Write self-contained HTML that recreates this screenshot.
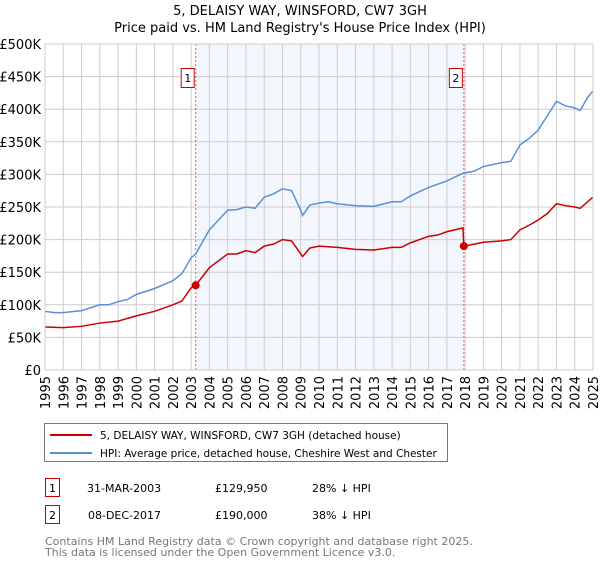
<!DOCTYPE html>
<html><head><meta charset="utf-8"><style>
body{margin:0;background:#fff;font-family:"DejaVu Sans","Liberation Sans",sans-serif;}
svg text{font-family:"DejaVu Sans","Liberation Sans",sans-serif;}
</style></head><body>
<svg id="c" width="600" height="560" xmlns="http://www.w3.org/2000/svg">
<text x="300" y="15" text-anchor="middle" font-size="13">5, DELAISY WAY, WINSFORD, CW7 3GH</text>
<text x="300" y="32" text-anchor="middle" font-size="13">Price paid vs. HM Land Registry's House Price Index (HPI)</text>
<g id="plot"></g>
<g>
<rect x="44.5" y="423.5" width="403" height="38" fill="#fff" stroke="#777"/>
<line x1="50" y1="435" x2="92" y2="435" stroke="#cc0000" stroke-width="2"/>
<text x="100" y="439" font-size="10.5">5, DELAISY WAY, WINSFORD, CW7 3GH (detached house)</text>
<line x1="50" y1="453" x2="92" y2="453" stroke="#5b8fd4" stroke-width="2"/>
<text x="100" y="457" font-size="10.5">HPI: Average price, detached house, Cheshire West and Chester</text>
</g>
<g font-size="11">
<rect x="45.5" y="478.5" width="14" height="18" fill="#fff" stroke="#cc0000"/>
<text x="52.5" y="492" text-anchor="middle">1</text>
<text x="87" y="492">31-MAR-2003</text><text x="215" y="492">£129,950</text><text x="312" y="492">28% ↓ HPI</text>
<rect x="45.5" y="505.5" width="14" height="18" fill="#fff" stroke="#cc0000"/>
<text x="52.5" y="519" text-anchor="middle">2</text>
<text x="88" y="519">08-DEC-2017</text><text x="215" y="519">£190,000</text><text x="312" y="519">38% ↓ HPI</text>
</g>
<text x="45" y="545" font-size="11" fill="#777">Contains HM Land Registry data © Crown copyright and database right 2025.</text>
<text x="45" y="556" font-size="11" fill="#777">This data is licensed under the Open Government Licence v3.0.</text>
</svg>
<script>
const yTicks=[0,50000,100000,150000,200000,250000,300000,350000,400000,450000,500000];
const yLabels=["£0","£50K","£100K","£150K","£200K","£250K","£300K","£350K","£400K","£450K","£500K"];
const years=[1995,1996,1997,1998,1999,2000,2001,2002,2003,2004,2005,2006,2007,2008,2009,2010,2011,2012,2013,2014,2015,2016,2017,2018,2019,2020,2021,2022,2023,2024,2025];
const hpiT=[1995,1995.5,1996,1997,1998,1998.5,1999,1999.5,2000,2001,2002,2002.5,2003,2003.25,2004,2005,2005.5,2006,2006.5,2007,2007.5,2008,2008.5,2009,2009.1,2009.5,2010,2010.5,2011,2012,2013,2014,2014.5,2015,2016,2016.5,2017,2017.9,2018.5,2019,2020,2020.5,2021,2021.5,2022,2022.5,2023,2023.5,2024,2024.3,2024.7,2025];
const hpiV=[90,88,88,91,100,100,105,108,116,125,137,148,172,178,215,245,246,250,248,265,270,278,275,245,237,253,256,258,255,252,251,258,258,267,280,285,290,302,305,312,318,320,345,355,368,390,412,405,402,398,418,428];
const ppT=[1995,1996,1997,1998,1999,2000,2001,2002,2002.5,2003,2003.25,2004,2005,2005.5,2006,2006.5,2007,2007.5,2008,2008.5,2009,2009.1,2009.5,2010,2011,2012,2013,2014,2014.5,2015,2016,2016.5,2017,2017.88,2017.93,2018.5,2019,2020,2020.5,2021,2021.5,2022,2022.5,2023,2023.5,2024,2024.3,2024.7,2025];
const ppV=[66,65,67,72,75,83,90,100,106,126,130,157,178,178,183,180,190,193,200,198,178,174,187,190,188,185,184,188,188,195,205,207,212,218,190,193,196,198,200,215,222,230,240,255,252,250,248,258,265];
const saleT=[2003.25,2017.93];
const saleV=[129950,190000];
const saleLabels=["1","2"];
const X0=45,X1=593,Y0=370,Y1=44;
const sx=t=>X0+(t-1995)/30*(X1-X0);
const sy=v=>Y0-v/500000*(Y0-Y1);
const NS="http://www.w3.org/2000/svg";
const g=document.getElementById('plot');
function mk(tag,attrs){const e=document.createElementNS(NS,tag);for(const k in attrs)e.setAttribute(k,attrs[k]);g.appendChild(e);return e;}
let e=mk('rect',{x:sx(saleT[0]),y:Y1,width:sx(saleT[1])-sx(saleT[0]),height:Y0-Y1,fill:'#f3f6fd'});


yTicks.forEach((v,i)=>{
 let l=mk('line',{x1:X0,x2:X1,y1:sy(v),y2:sy(v),stroke:'#ccc'});
 
 
 let t=mk('text',{x:X0-4,y:sy(v)+5,'text-anchor':'end','font-size':'13'});t.textContent=yLabels[i];
 
 
});
years.forEach(y=>{
 let l=mk('line',{x1:sx(y),x2:sx(y),y1:Y1,y2:Y0,stroke:'#ccc'});
 
 
 let t=mk('text',{x:0,y:0,'text-anchor':'end','font-size':'13',transform:`translate(${sx(y)+5},${Y0+6}) rotate(-90)`});t.textContent=y;
 
 
});
saleT.forEach((t,i)=>{
 let l=mk('line',{x1:sx(t),x2:sx(t),y1:Y1,y2:Y0,stroke:'#f06060','stroke-dasharray':'2,2'});
 
 
 let r=mk('rect',{x:sx(t)-14.5,y:68.5,width:13,height:19,fill:'#fff',stroke:'#cc0000'});
 
 
 let tx=mk('text',{x:sx(t)-8,y:82,'text-anchor':'middle','font-size':'11'});tx.textContent=saleLabels[i];
 
 
});
let hp=mk('polyline',{points:hpiT.map((t,i)=>sx(t)+','+sy(hpiV[i]*1000)).join(' '),fill:'none',stroke:'#5b8fd4','stroke-width':'1.5'});


let pp=mk('polyline',{points:ppT.map((t,i)=>sx(t)+','+sy(ppV[i]*1000)).join(' '),fill:'none',stroke:'#cc0000','stroke-width':'1.5'});


saleT.forEach((t,i)=>{
 let c=mk('circle',{cx:sx(t),cy:sy(saleV[i]),r:4,fill:'#cc0000'});
 
 
});
let ax=mk('rect',{x:X0,y:Y1,width:X1-X0,height:Y0-Y1,fill:'none',stroke:'#ccc'});


</script>
</body></html>
